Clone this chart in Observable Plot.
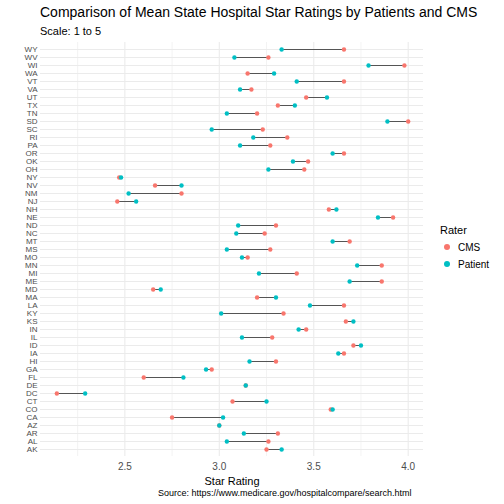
<!DOCTYPE html>
<html><head><meta charset="utf-8">
<script src="https://cdn.jsdelivr.net/npm/d3@7"></script>
<script src="https://cdn.jsdelivr.net/npm/@observablehq/plot@0.6"></script>
<style>
body{margin:0;font-family:"Liberation Sans",Arial,sans-serif;background:#fff}
#wrap{position:relative;width:504px;height:504px}
#title{position:absolute;left:40px;top:4px;font-size:14px;color:#000}
#sub{position:absolute;left:40px;top:25px;font-size:11px;color:#000}
#leg{position:absolute;left:440px;top:224px;font-size:10px;color:#000}
#cap{position:absolute;left:158px;top:488px;font-size:9px;color:#000}
</style></head><body>
<div id="wrap">
<div id="chart"></div>
<div id="title">Comparison of Mean State Hospital Star Ratings by Patients and CMS</div>
<div id="sub">Scale: 1 to 5</div>
<div id="leg"><div style="font-size:11px;margin-bottom:6px">Rater</div>
<div style="margin-bottom:6px"><span style="display:inline-block;width:6px;height:6px;border-radius:3px;background:#F8766D;margin:0 8px 1px 4px"></span>CMS</div>
<div><span style="display:inline-block;width:6px;height:6px;border-radius:3px;background:#00BFC4;margin:0 8px 1px 4px"></span>Patient</div></div>
<div id="cap">Source: https://www.medicare.gov/hospitalcompare/search.html</div>
</div>
<script>
const states = ["WY","WV","WI","WA","VT","VA","UT","TX","TN","SD","SC","RI","PA","OR","OK","OH","NY","NV","NM","NJ","NH","NE","ND","NC","MT","MS","MO","MN","MI","ME","MD","MA","LA","KY","KS","IN","IL","ID","IA","HI","GA","FL","DE","DC","CT","CO","CA","AZ","AR","AL","AK"];
const cms = [3.66,3.26,3.98,3.15,3.66,3.17,3.46,3.31,3.20,4.00,3.23,3.36,3.27,3.66,3.47,3.45,2.47,2.66,2.80,2.46,3.58,3.92,3.30,3.24,3.69,3.27,3.15,3.86,3.41,3.86,2.65,3.20,3.66,3.34,3.67,3.46,3.28,3.71,3.66,3.30,2.96,2.60,3.14,2.14,3.07,3.59,2.75,3.00,3.31,3.26,3.25];
const patient = [3.33,3.08,3.79,3.29,3.41,3.11,3.57,3.40,3.04,3.89,2.96,3.18,3.11,3.60,3.39,3.26,2.48,2.80,2.52,2.56,3.62,3.84,3.10,3.09,3.60,3.04,3.12,3.73,3.21,3.69,2.69,3.30,3.48,3.01,3.71,3.42,3.12,3.75,3.63,3.16,2.93,2.81,3.14,2.29,3.25,3.60,3.02,3.00,3.13,3.04,3.33];
const xTicks = [2.5,3.0,3.5,4.0];
const minorTicks = [2.25,2.75,3.25,3.75];

const rows = states.map((s,i)=>({state:s,cms:cms[i],patient:patient[i]}));
const pts = rows.flatMap(r=>[{state:r.state,v:r.cms,rater:"CMS"},{state:r.state,v:r.patient,rater:"Patient"}]);

const chart = Plot.plot({
  width:504, height:490,
  marginTop:42, marginBottom:34, marginLeft:40, marginRight:81,
  style:{fontFamily:"Liberation Sans, Arial, sans-serif", fontSize:"10px", color:"#4d4d4d"},
  x:{domain:[2.0535,4.081], ticks:xTicks, tickFormat:d3.format(".1f"), tickSize:0, tickPadding:6, label:"Star Rating", labelAnchor:"center", labelArrow:"none", labelOffset:28},
  y:{type:"point", domain:states, padding:0.6, tickSize:0, tickPadding:3, label:null},
  color:{domain:["CMS","Patient"], range:["#F8766D","#00BFC4"]},
  marks:[
    Plot.ruleX(minorTicks,{stroke:"#ebebeb",strokeWidth:0.6}),
    Plot.ruleX(xTicks,{stroke:"#ebebeb",strokeWidth:1.1}),
    Plot.ruleY(states,{y:d=>d,stroke:"#ebebeb",strokeWidth:1.1}),
    Plot.link(rows,{x1:"patient",x2:"cms",y1:"state",y2:"state",stroke:"#555",strokeWidth:1}),
    Plot.dot(pts,{x:"v",y:"state",fill:"rater",r:2.2,stroke:null})
  ]
});
chart.querySelectorAll('[aria-label="x-axis label"] text').forEach(t=>{t.style.fontSize="11px";t.setAttribute("fill","#000");});
chart.querySelectorAll('[aria-label="y-axis tick label"] text').forEach(t=>{t.style.fontSize="8px";});
document.getElementById("chart").appendChild(chart);
</script>
</body></html>
